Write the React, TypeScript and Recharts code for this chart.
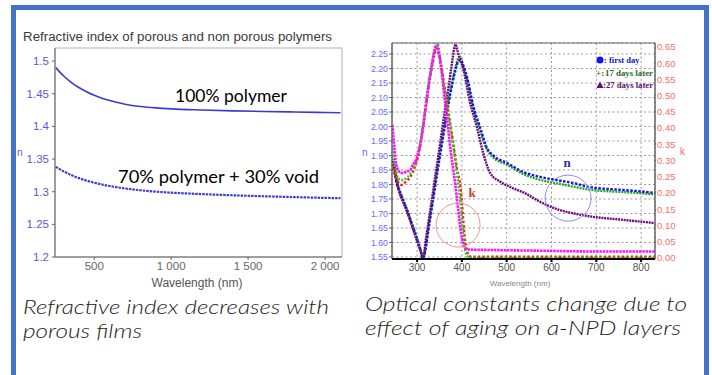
import React from 'react';
import { LineChart, Line, XAxis, YAxis, CartesianGrid, ReferenceArea, ReferenceDot } from 'recharts';

// ---- Left panel: refractive index of dense vs porous polymer ----
const polymerWavelengths = [250, 275, 300, 350, 400, 450, 500, 550, 600, 650, 700, 800, 900, 1000, 1200, 1400, 1600, 1800, 2000, 2100];
const densePolymerIndex = [1.49, 1.4835, 1.4775, 1.4675, 1.4595, 1.453, 1.4475, 1.443, 1.4395, 1.4365, 1.434, 1.4305, 1.4283, 1.4268, 1.4251, 1.4238, 1.4228, 1.422, 1.4212, 1.4208];
const porousPolymerIndex = [1.338, 1.3345, 1.3312, 1.3255, 1.3208, 1.317, 1.3138, 1.311, 1.3087, 1.3067, 1.305, 1.3022, 1.3, 1.2985, 1.2963, 1.2945, 1.293, 1.2917, 1.2905, 1.29];
const polymerTicksX = [500, 1000, 1500, 2000];
const polymerTicksY = [1.2, 1.25, 1.3, 1.35, 1.4, 1.45, 1.5];

// ---- Right panel: n and k of a-NPD after aging ----
const nDayWl = [245, 250, 255, 260, 270, 280, 290, 300, 308, 313, 318, 325, 335, 345, 355, 365, 375, 385, 392, 397, 402, 412, 425, 441, 456, 470, 501, 537, 575, 612, 648, 686, 760, 800, 830];
const nFirstDay = [1.87, 1.84, 1.8, 1.78, 1.74, 1.7, 1.655, 1.61, 1.57, 1.545, 1.57, 1.64, 1.74, 1.84, 1.935, 2.03, 2.12, 2.19, 2.225, 2.23, 2.215, 2.167, 2.074, 1.995, 1.926, 1.9, 1.874, 1.843, 1.826, 1.815, 1.805, 1.791, 1.781, 1.776, 1.771];
const nDay17 = [1.9, 1.86, 1.81, 1.785, 1.745, 1.705, 1.66, 1.615, 1.575, 1.545, 1.575, 1.65, 1.75, 1.85, 1.95, 2.04, 2.13, 2.2, 2.235, 2.24, 2.21, 2.16, 2.065, 1.985, 1.92, 1.893, 1.868, 1.836, 1.816, 1.804, 1.793, 1.782, 1.774, 1.77, 1.766];
const nDay27Wl = [245, 250, 255, 260, 270, 280, 290, 300, 308, 313, 320, 330, 340, 350, 360, 370, 378, 383, 386, 390, 395, 403, 418, 434, 447, 463, 485, 510, 537, 575, 612, 650, 686, 760, 830];
const nDay27 = [1.88, 1.85, 1.81, 1.775, 1.735, 1.695, 1.65, 1.605, 1.57, 1.545, 1.615, 1.716, 1.822, 1.926, 2.033, 2.133, 2.22, 2.27, 2.283, 2.262, 2.235, 2.2, 2.084, 1.995, 1.912, 1.84, 1.81, 1.79, 1.773, 1.74, 1.715, 1.7, 1.69, 1.678, 1.667];

const kFirstDayWl = [245, 250, 255, 260, 265, 275, 285, 295, 305, 315, 325, 335, 343, 350, 360, 370, 380, 391, 396, 400, 403, 407, 411, 416, 425, 500, 600, 700, 830];
const kFirstDay = [0.29, 0.26, 0.24, 0.23, 0.225, 0.235, 0.25, 0.28, 0.33, 0.42, 0.52, 0.6, 0.645, 0.62, 0.54, 0.45, 0.36, 0.26, 0.23, 0.17, 0.117, 0.055, 0.025, 0.006, 0.004, 0.004, 0.004, 0.004, 0.004];
const kDay17Wl = [245, 250, 258, 265, 275, 285, 295, 305, 315, 325, 335, 342, 346, 350, 360, 370, 380, 390, 396, 400, 404, 408, 415, 430, 600, 830];
const kDay17 = [0.34, 0.29, 0.245, 0.24, 0.245, 0.26, 0.29, 0.34, 0.43, 0.53, 0.61, 0.66, 0.66, 0.63, 0.53, 0.44, 0.35, 0.25, 0.18, 0.12, 0.06, 0.02, 0.003, 0, 0, 0];
const kDay27Wl = [245, 248, 252, 258, 265, 275, 285, 292, 297, 302, 311, 318, 325, 333, 340, 344, 350, 355, 360, 365, 370, 375, 380, 385, 390, 395, 400, 405, 410, 420, 450, 500, 600, 700, 830];
const kDay27 = [0.41, 0.36, 0.3, 0.27, 0.262, 0.265, 0.272, 0.29, 0.3, 0.32, 0.38, 0.45, 0.525, 0.596, 0.645, 0.655, 0.62, 0.57, 0.51, 0.45, 0.39, 0.33, 0.28, 0.23, 0.17, 0.11, 0.06, 0.035, 0.028, 0.026, 0.025, 0.024, 0.022, 0.02, 0.02];

const npdTicksX = [300, 400, 500, 600, 700, 800];
const npdTicksN = [1.55, 1.6, 1.65, 1.7, 1.75, 1.8, 1.85, 1.9, 1.95, 2.0, 2.05, 2.1, 2.15, 2.2, 2.25];
const npdTicksK = [0, 0.05, 0.1, 0.15, 0.2, 0.25, 0.3, 0.35, 0.4, 0.45, 0.5, 0.55, 0.6, 0.65];

const toRows = (xs: number[], ys: number[]) => xs.map((x, i) => ({ wl: x, v: ys[i] }));

const polymerRows = polymerWavelengths.map((w, i) => ({
  wl: w,
  dense: densePolymerIndex[i],
  porous: porousPolymerIndex[i],
}));

const spacedThousands = (v: number) =>
  v >= 1000 ? `${Math.floor(v / 1000)} ${String(v % 1000).padStart(3, '0')}` : String(v);

const FRAME_BLUE = '#4472c4';

function PolymerChart() {
  return (
    <LineChart
      width={360}
      height={300}
      data={polymerRows}
      margin={{ top: 48, right: 18, bottom: 13, left: 0 }}
      style={{ position: 'absolute', left: 0, top: 0 }}
    >
      <ReferenceArea x1={245} x2={2110} y1={1.2} y2={1.52} fill="none" stroke="#b0b0b0" strokeWidth={1} />
      <XAxis
        dataKey="wl"
        type="number"
        domain={[245, 2110]}
        ticks={polymerTicksX}
        tickFormatter={spacedThousands}
        allowDataOverflow
        height={30}
        stroke="#666"
        tickSize={3}
        tick={{ fill: '#666', fontSize: 11.5, fontFamily: 'Arial, "Liberation Sans", sans-serif' }}
      />
      <YAxis
        type="number"
        domain={[1.2, 1.52]}
        ticks={polymerTicksY}
        interval={0}
        allowDataOverflow
        width={55}
        stroke="#666"
        tickSize={3}
        tickMargin={3}
        tick={{ fill: '#5a5ad2', fontSize: 11.5, fontFamily: 'Arial, "Liberation Sans", sans-serif' }}
      />
      <Line type="monotone" dataKey="dense" stroke="#3b3bd0" strokeWidth={1.6} dot={false} isAnimationActive={false} />
      <Line type="monotone" dataKey="porous" stroke="#3b3bd0" strokeWidth={2.2} strokeDasharray="2.5 1" dot={false} isAnimationActive={false} />
    </LineChart>
  );
}

function AgingChart() {
  const tickFont = 'Arial, "Liberation Sans", sans-serif';
  return (
    <LineChart
      width={352}
      height={300}
      margin={{ top: 43, right: 27, bottom: 13, left: 0 }}
      style={{ position: 'absolute', left: 360, top: 0 }}
    >
      <CartesianGrid yAxisId="n" stroke="#9a9a9a" strokeDasharray="2 2.5" />
      <XAxis
        dataKey="wl"
        type="number"
        domain={[244, 831]}
        ticks={npdTicksX}
        interval={0}
        allowDataOverflow
        height={28}
        stroke="#000"
        strokeWidth={2}
        tickSize={3}
        tick={{ fill: '#555', fontSize: 10, fontFamily: tickFont }}
      />
      <YAxis
        yAxisId="n"
        orientation="left"
        type="number"
        domain={[1.543, 2.288]}
        ticks={npdTicksN}
        interval={0}
        tickFormatter={(v: number) => v.toFixed(2)}
        allowDataOverflow
        width={32}
        stroke="#666"
        tickSize={3}
        tickMargin={1}
        tick={{ fill: '#6a6aff', fontSize: 8.8, fontFamily: tickFont }}
      />
      <YAxis
        yAxisId="k"
        orientation="right"
        type="number"
        domain={[-0.003, 0.662]}
        ticks={npdTicksK}
        interval={0}
        tickFormatter={(v: number) => v.toFixed(2)}
        allowDataOverflow
        width={30}
        stroke="#666"
        tickSize={1}
        tickMargin={1}
        tick={{ fill: '#ff6a6a', fontSize: 9.5, fontFamily: tickFont }}
      />
      <ReferenceArea yAxisId="n" x1={244} x2={831} y1={1.543} y2={2.288} fill="none" stroke="#666" strokeWidth={1} />

      <Line yAxisId="n" data={toRows(nDayWl, nDay17)} dataKey="v" type="monotone" stroke="#1fa81f" strokeWidth={2.4} strokeDasharray="2 1" dot={false} isAnimationActive={false} />
      <Line yAxisId="n" data={toRows(nDayWl, nFirstDay)} dataKey="v" type="monotone" stroke="#1414e6" strokeWidth={2.4} strokeDasharray="2.5 1.5" dot={false} isAnimationActive={false} />
      <Line yAxisId="n" data={toRows(nDay27Wl, nDay27)} dataKey="v" type="monotone" stroke="#6a0a80" strokeWidth={2.4} strokeDasharray="2 0.8" dot={false} isAnimationActive={false} />

      <Line yAxisId="k" data={toRows(kFirstDayWl, kFirstDay)} dataKey="v" type="monotone" stroke="#ff1a1a" strokeWidth={2.4} strokeDasharray="2.5 2" dot={false} isAnimationActive={false} />
      <Line yAxisId="k" data={toRows(kDay17Wl, kDay17)} dataKey="v" type="monotone" stroke="#22cc22" strokeWidth={2.4} strokeDasharray="2 1.5" dot={false} isAnimationActive={false} />
      <Line yAxisId="k" data={toRows(kDay27Wl, kDay27)} dataKey="v" type="monotone" stroke="#ff10ff" strokeWidth={2.6} strokeDasharray="2.5 0.8" dot={false} isAnimationActive={false} />

      <ReferenceDot yAxisId="n" x={637} y={1.753} r={23} fill="none" stroke="#8c8cff" strokeWidth={1} ifOverflow="visible" />
      <ReferenceDot yAxisId="n" x={391.5} y={1.66} r={22} fill="none" stroke="#ff9090" strokeWidth={1} ifOverflow="visible" />
    </LineChart>
  );
}

export default function App() {
  const captionFont = 'Lato, "Open Sans", sans-serif';
  return (
    <div
      style={{
        position: 'absolute',
        left: 0,
        top: 0,
        width: 712,
        height: 375,
        background: '#ffffff',
        overflow: 'hidden',
      }}
    >
      <div
        style={{
          position: 'absolute',
          left: 11,
          top: 5,
          width: 698,
          height: 420,
          boxSizing: 'border-box',
          borderLeft: `5px solid ${FRAME_BLUE}`,
          borderRight: `5px solid ${FRAME_BLUE}`,
          borderTop: `5px solid ${FRAME_BLUE}`,
        }}
      />
      <PolymerChart />
      <AgingChart />
      <svg width={712} height={375} style={{ position: 'absolute', left: 0, top: 0, pointerEvents: 'none' }}>
        {/* left panel texts */}
        <text x={23} y={41} fontFamily='Arial, "Liberation Sans", sans-serif' fontSize={12.5} fill="#3a3a3a" textLength={309} lengthAdjust="spacingAndGlyphs">
          Refractive index of porous and non porous polymers
        </text>
        <text x={17} y={156} fontFamily="Arial, sans-serif" fontSize={10} fill="#5a5ad2">n</text>
        <text x={197} y={287} textAnchor="middle" fontFamily='Arial, "Liberation Sans", sans-serif' fontSize={12} fill="#555">
          Wavelength (nm)
        </text>
        <text x={175} y={102} fontFamily={captionFont} fontSize={18} fill="#000" textLength={112} lengthAdjust="spacingAndGlyphs">
          100% polymer
        </text>
        <text x={118} y={183} fontFamily={captionFont} fontSize={18} fill="#000" textLength={201} lengthAdjust="spacingAndGlyphs">
          70% polymer + 30% void
        </text>

        {/* right panel texts */}
        <text x={362} y={156} fontFamily="Arial, sans-serif" fontSize={10} fill="#6a6aff">n</text>
        <text x={680} y={155} fontFamily="Arial, sans-serif" fontSize={10} fill="#ff6a6a">k</text>
        <text x={520} y={286} textAnchor="middle" fontFamily="Arial, sans-serif" fontSize={8} fill="#888">
          Wavelength (nm)
        </text>
        <text x={567} y={167} textAnchor="middle" fontFamily='"Liberation Serif", "DejaVu Serif", serif' fontWeight="bold" fontSize={13} fill="#2a2ab0">n</text>
        <text x={472} y={197} textAnchor="middle" fontFamily='"Liberation Serif", "DejaVu Serif", serif' fontWeight="bold" fontSize={13} fill="#cc3a2a">k</text>

        {/* legend */}
        <circle cx={600} cy={60} r={3.5} fill="#1414e6" />
        <text x={604} y={63} fontFamily='"Liberation Serif", serif' fontWeight="bold" fontSize={8.5} fill="#1414c0">: first day</text>
        <text x={596} y={75.5} fontFamily='"Liberation Serif", serif' fontWeight="bold" fontSize={9} fill="#1f6a1f">+:</text>
        <text x={605} y={75.5} fontFamily='"Liberation Serif", serif' fontWeight="bold" fontSize={8.5} fill="#1f6a1f" textLength={48} lengthAdjust="spacingAndGlyphs">17 days later</text>
        <polygon points="596.5,88 600,81.5 603.5,88" fill="#5a1070" />
        <text x={603} y={88} fontFamily='"Liberation Serif", serif' fontWeight="bold" fontSize={8.5} fill="#5a1070" textLength={50} lengthAdjust="spacingAndGlyphs">:27 days later</text>

        {/* captions */}
        <text x={23} y={314} fontFamily={captionFont} fontStyle="italic" fontWeight={300} fontSize={20} fill="#222" textLength={306} lengthAdjust="spacingAndGlyphs">
          Refractive index decreases with
        </text>
        <text x={23} y={338} fontFamily={captionFont} fontStyle="italic" fontWeight={300} fontSize={20} fill="#222" textLength={119} lengthAdjust="spacingAndGlyphs">
          porous films
        </text>
        <text x={365} y={311} fontFamily={captionFont} fontStyle="italic" fontWeight={300} fontSize={20} fill="#222" textLength={322} lengthAdjust="spacingAndGlyphs">
          Optical constants change due to
        </text>
        <text x={365} y={335} fontFamily={captionFont} fontStyle="italic" fontWeight={300} fontSize={20} fill="#222" textLength={316} lengthAdjust="spacingAndGlyphs">
          effect of aging on a-NPD layers
        </text>
      </svg>
    </div>
  );
}
